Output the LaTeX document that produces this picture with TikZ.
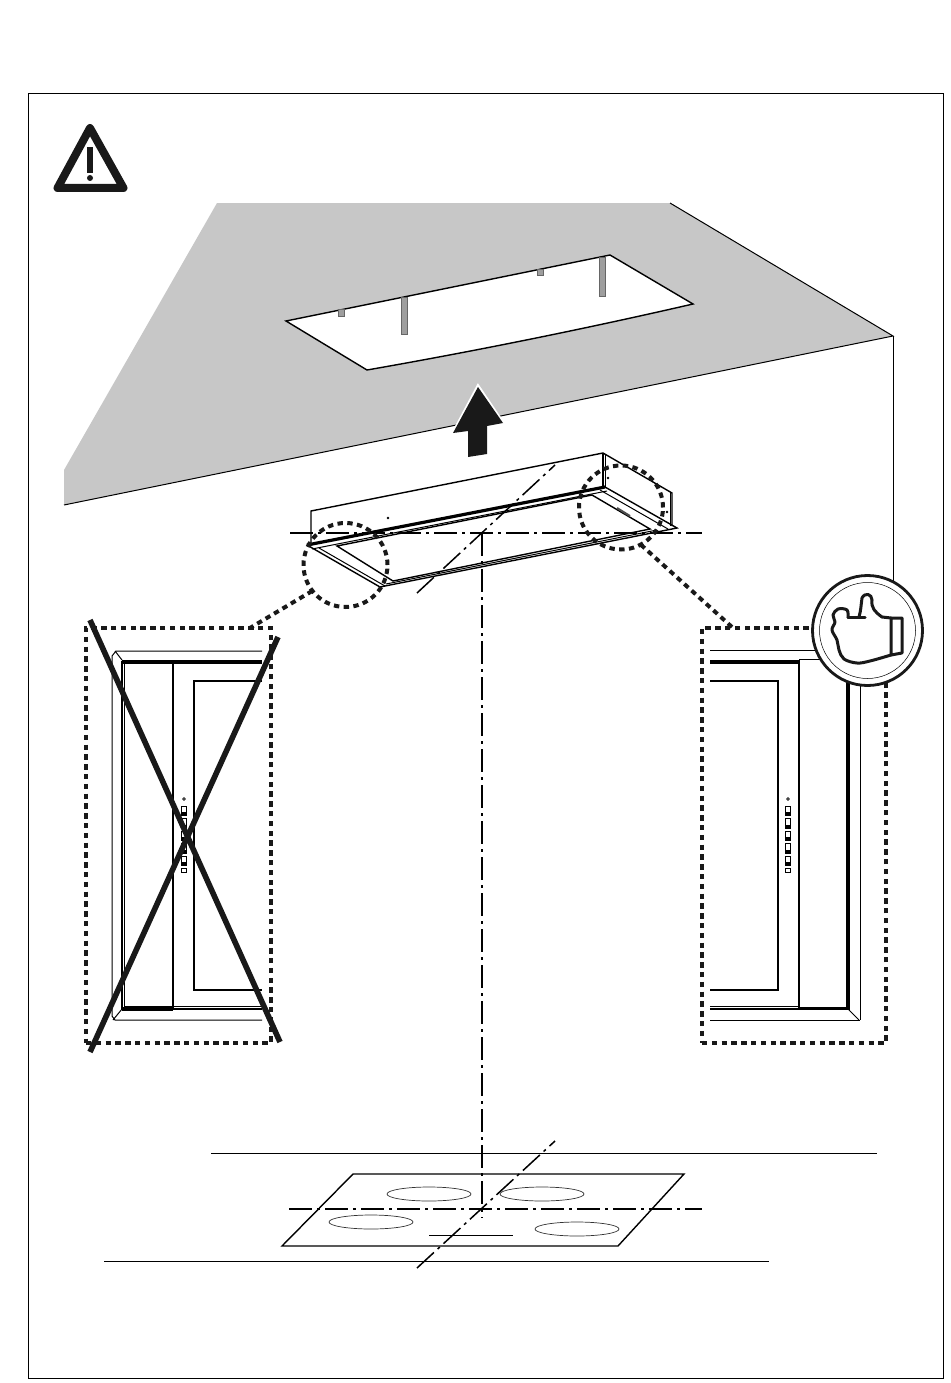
\documentclass[tikz,border=0pt]{standalone}
\usepackage{xcolor}
\definecolor{ceiling}{gray}{0.78}
\definecolor{rod}{gray}{0.62}
\definecolor{ink}{gray}{0.1}
\tikzstyle{thin_l} = [draw=black, line width=1pt]
\tikzstyle{mid_l} = [draw=black, line width=1.4pt]
\tikzstyle{thick_l} = [draw=black, line width=2.3pt]
\tikzstyle{heavy_l} = [draw=black, line width=3.2pt]
\tikzstyle{axis} = [draw=black, line width=1.5pt, dash pattern=on 23pt off 5pt on 3pt off 5pt]
\tikzstyle{dots} = [draw=ink, line width=4pt, dash pattern=on 5.4pt off 4.4pt]
\tikzstyle{ring} = [circle, dots, minimum size=84pt, inner sep=0pt, outer sep=0pt]
\tikzstyle{detail} = [rectangle, dots, inner sep=0pt, outer sep=0pt]
\tikzstyle{cross} = [draw=ink, line width=5.6pt]
\tikzstyle{rodbar} = [fill=rod, draw=black!60, line width=.4pt]
\tikzstyle{burner} = [ellipse, draw=black!80, line width=.7pt, minimum width=84pt, minimum height=14pt, inner sep=0pt]
\usetikzlibrary{shapes.geometric}

\begin{document}
\begin{tikzpicture}[x=1pt, y=-1pt]
	\useasboundingbox (0,0) rectangle (950,1383);
	\draw[thin_l] (28,94) rectangle (943,1378);

	% warning sign
	\draw[draw=ink, line width=8pt, line join=round] (90,128) -- (57.5,188) -- (123.5,188) -- cycle;
	\fill[ink] (87,147) rectangle (93,173);
	\fill[ink] (90,178) circle (3pt);

	% ceiling with opening
	\fill[ceiling] (217,203) -- (670,203) -- (893,336) -- (64,505) -- (64,470) -- cycle;
	\draw[thin_l] (670,203) -- (893,336) -- (64,505);
	\draw[thin_l] (893,336) -- (893,590);
	\draw[mid_l, fill=white] (286,321) -- (610,255) -- (693,304) .. controls (580,330) and (470,352) .. (367,370) -- cycle;
	\draw[rodbar] (401,297) rectangle (407,334);
	\draw[rodbar] (599,257) rectangle (605,296);
	\draw[rodbar] (338,309) rectangle (344,316);
	\draw[rodbar] (537,269) rectangle (543,275);

	% arrow
	\draw[draw=white, line width=3pt, fill=white, line join=miter] (453,433) -- (478,386) -- (503,423);
	\fill[ink] (478,387) -- (453,433) -- (468,431) -- (468,457) -- (487,454) -- (487,426) -- (503,423) -- cycle;

	% hood body
	\draw[mid_l] (311,543) -- (311,511) -- (603,453) -- (672,493) -- (672,526);
	\draw[mid_l] (603,453) -- (603,487);
	\draw[thin_l] (605,454) -- (605,487);
	\draw[thin_l] (670,492) -- (670,526);
	\draw[heavy_l] (307,545) -- (605,487);
	\draw[thin_l] (312,549) -- (607,491);
	\draw[mid_l] (307,545) -- (380,587) -- (677,528) -- (605,487);
	\draw[thin_l] (319,548) -- (385,586);
	\draw[thin_l] (386,584) -- (657,530);
	\draw[thin_l] (600,490) -- (668,529);
	\draw[mid_l] (337,546) -- (393,581) -- (650,529) -- (592,495) -- cycle;
	\fill[black] (388,518) circle (1.4pt);
	\fill[black] (608,478) circle (1.4pt);
	\fill[black] (667,512) circle (1.4pt);
	\draw[line width=2pt, draw=black!70] (617,508) -- (630,516);

	% axes above
	\draw[axis] (290,533) -- (702,533);
	\draw[axis] (417,593) -- (555,465);
	\draw[axis] (482,533) -- (482,1218);

	% detail rings
	\node[ring] (ring_l) at (345.5,565) {};
	\node[ring] (ring_r) at (621,507.5) {};
	\node[detail, minimum width=185pt, minimum height=415pt] (box_l) at (178.5,835.5) {};
	\node[detail, minimum width=184pt, minimum height=415pt] (box_r) at (794,835.5) {};
	\coordinate (lead_l) at (250,628);
	\coordinate (lead_r) at (733,628);
	\draw[dots] (ring_l.218) -- (lead_l);
	\draw[dots] (ring_r.-62) -- (lead_r);

	% left detail
	\draw[thin_l] (262,651) -- (116,651) -- (112,656) -- (112,1016) -- (115,1020) -- (262,1020);
	\draw[thin_l] (115,651) -- (122,660);
	\draw[thin_l] (113,1020) -- (122,1009);
	\draw[thin_l] (124,662) -- (124,1007);
	\draw[mid_l] (122,661) -- (122,1009);
	\draw[heavy_l] (122,662) -- (262,662);
	\draw[heavy_l] (122,1009) -- (173,1009);
	\draw[thick_l] (173,1009) -- (262,1009);
	\draw[thin_l] (124,1006.5) -- (262,1006.5);
	\draw[thick_l] (173,662) -- (173,1009);
	\draw[thick_l] (262,681) -- (194,681) -- (194,990) -- (262,990);

	% right detail
	\draw[thin_l] (710,650) -- (840,650);
	\draw[heavy_l] (710,662) -- (800,662);
	\draw[thin_l] (799,659.5) -- (850,659.5);
	\draw[thick_l] (799,662) -- (799,1008);
	\draw[thick_l] (710,681) -- (778,681) -- (778,990) -- (710,990);
	\draw[thin_l] (710,1006.5) -- (799,1006.5);
	\draw[thick_l] (710,1009) -- (799,1009);
	\draw[heavy_l] (799,1008.5) -- (848,1008.5);
	\draw[heavy_l] (848,660) -- (848,1010);
	\draw[thin_l] (860,660) -- (860,1020);
	\draw[thin_l] (848,1009) -- (859,1020);
	\draw[thin_l] (710,1020) -- (860,1020);

	% control strips
	\foreach \cx in {184,788} {
		\draw[line width=.7pt] (\cx,799) circle (1.4pt);
		\foreach \ya/\yb in {806/815,818/828,831/840,843/853,856/865} {
			\draw[line width=.7pt] (\cx-2.3,\ya) rectangle (\cx+2.3,\yb);
			\fill[black] (\cx-2.3,\yb-3) rectangle (\cx+2.3,\yb);
		}
		\draw[line width=.7pt] (\cx-2.3,868) rectangle (\cx+2.3,872.5);
	}

	% crossed out
	\draw[cross] (90,620) -- (280,1042);
	\draw[cross] (278,637) -- (90,1052);

	% thumb badge
	\node[circle, draw=ink, line width=2.8pt, fill=white, minimum size=110pt, inner sep=0pt] (badge) at (867.5,630.5) {};
	\node[circle, draw=black, line width=.5pt, minimum size=96pt, inner sep=0pt] (badge_in) at (867.5,630.5) {};
	\draw[draw=ink, line width=3pt, line join=round, line cap=round] (891,618) -- (902,618) -- (902,653) -- (891,655) -- cycle;
	\draw[draw=ink, line width=3pt, line join=round, line cap=round] (891,618) -- (882,617) .. controls (875,612) and (871,608) .. (872,600) .. controls (872,594) and (865,592) .. (862,598) .. controls (861,605) and (861,610) .. (859,617);
	\draw[draw=ink, line width=3pt, line cap=round] (848,617.5) -- (865,617.5);
	\draw[draw=ink, line width=3pt, line join=round, line cap=round] plot[smooth, tension=.6] coordinates {(848,617.5) (847,610) (838,609) (833,615) (835,622) (832,630) (837,640) (839,650) (844,659) (857,663) (870,661) (891,655)};

	% hob
	\draw[thin_l] (211,1153) -- (877,1153);
	\draw[thin_l] (104,1261) -- (769,1261);
	\draw[mid_l] (353,1174) -- (684,1174) -- (618,1246) -- (282,1246) -- cycle;
	\node[burner] (burner_1) at (429,1194) {};
	\node[burner] (burner_2) at (542,1194) {};
	\node[burner] (burner_3) at (371,1222) {};
	\node[burner] (burner_4) at (577,1229) {};
	\draw[thin_l] (429,1235.5) -- (513,1235.5);
	\draw[axis] (289,1209) -- (702,1209);
	\draw[axis] (417,1268) -- (555,1141);
\end{tikzpicture}
\end{document}
